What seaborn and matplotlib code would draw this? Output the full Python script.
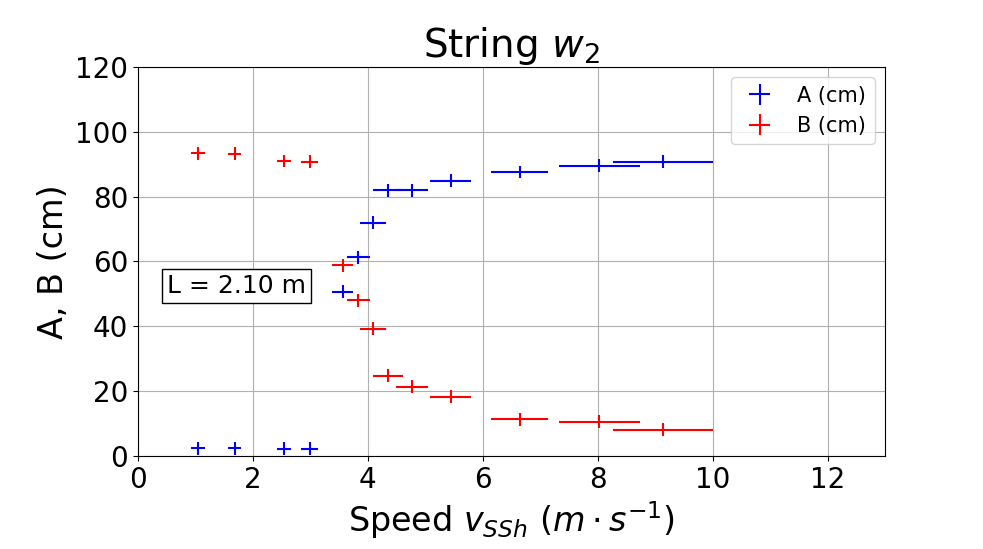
import pandas as pd
import seaborn as sns
import matplotlib.pyplot as plt

# speeds (m/s) and their uncertainties
speed = [1.05, 1.68, 2.54, 2.99, 3.56, 3.83, 4.09, 4.35, 4.77, 5.44, 6.64, 8.03, 9.14]
speed_err = [0.12, 0.12, 0.12, 0.15, 0.18, 0.20, 0.22, 0.26, 0.28, 0.35, 0.50, 0.70, 0.87]
# amplitudes A and B (cm)
a_cm = [2.4, 2.4, 2.2, 2.2, 50.6, 61.3, 72.0, 81.9, 81.9, 84.9, 87.6, 89.5, 90.7]
b_cm = [93.4, 93.2, 91.0, 90.7, 58.9, 48.1, 39.3, 24.8, 21.4, 18.3, 11.3, 10.6, 8.1]
amp_err = [2] * len(speed)

df = pd.DataFrame({'speed': speed, 'speed_err': speed_err,
                   'A': a_cm, 'B': b_cm, 'err': amp_err})

sns.set_style('ticks', {'axes.edgecolor': 'black', 'text.color': 'black',
                        'xtick.color': 'black', 'ytick.color': 'black',
                        'axes.labelcolor': 'black', 'grid.color': '#b0b0b0'})
plt.rcParams['font.family'] = ['DejaVu Sans']

fig = plt.figure(figsize=(9.83, 5.49), dpi=100)
ax = fig.add_axes([0.1404, 0.1694, 0.7599, 0.7086])

ax.errorbar(df['speed'], df['A'], xerr=df['speed_err'], yerr=df['err'],
            fmt='none', ecolor='blue', elinewidth=1.5, label='A (cm)')
ax.errorbar(df['speed'], df['B'], xerr=df['speed_err'], yerr=df['err'],
            fmt='none', ecolor='red', elinewidth=1.5, label='B (cm)')

ax.set_xlim(0, 13)
ax.set_ylim(0, 120)
ax.grid(True, color='#b0b0b0', linewidth=0.8)
ax.tick_params(labelsize=20)
ax.set_title('String $w_2$', fontsize=28)
ax.set_xlabel(r'Speed $v_{SSh}$ $(m \cdot s^{-1})$', fontsize=24)
ax.set_ylabel('A, B (cm)', fontsize=24)

ax.text(0.5, 52.5, 'L = 2.10 m', fontsize=18, va='center',
        bbox=dict(boxstyle='square,pad=0.2', facecolor='white', edgecolor='black'))

ax.legend(loc='upper right', fontsize=15)

fig.savefig('out.png', dpi=100)
